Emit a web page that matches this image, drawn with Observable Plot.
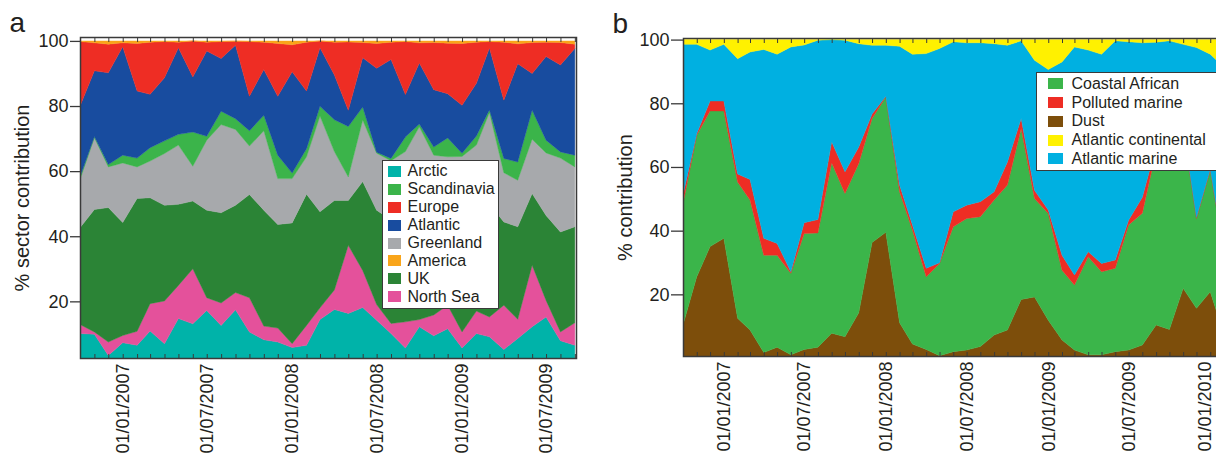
<!DOCTYPE html>
<html>
<head>
<meta charset="utf-8">
<script src="https://cdn.jsdelivr.net/npm/d3@7"></script>
<script src="https://cdn.jsdelivr.net/npm/@observablehq/plot@0.6"></script>
<style>
  html, body { margin: 0; padding: 0; background: #fff; overflow: hidden; }
  #fig { position: relative; width: 1216px; height: 458px; overflow: hidden;
         font-family: "Liberation Sans", Arial, Helvetica, sans-serif; color: #231f20; }
  #fig > svg { position: absolute; top: 0; }
  .legend { position: absolute; background: #fff; border: 1.5px solid #3a3a3a; box-sizing: border-box; }
  .legend .row { display: flex; align-items: center; white-space: nowrap; }
  .legend .sw { flex: none; }
</style>
</head>
<body>
<div id="fig"></div>
<script>
// ---------- Panel a: air-mass sector contributions (monthly, %) ----------
const sectorMonths = [
  "2006-10","2006-11","2006-12",
  "2007-01","2007-02","2007-03","2007-04","2007-05","2007-06","2007-07","2007-08","2007-09","2007-10","2007-11","2007-12",
  "2008-01","2008-02","2008-03","2008-04","2008-05","2008-06","2008-07","2008-08","2008-09","2008-10","2008-11","2008-12",
  "2009-01","2009-02","2009-03","2009-04","2009-05","2009-06","2009-07","2009-08","2009-09"
];
const arctic      = [10.1,9.9,3.4,7.3,6.5,10.9,7.0,14.7,13.1,17.2,12.6,17.4,10.6,8.2,7.5,5.8,6.5,14.4,17.5,16.3,18.1,14.2,10.1,5.7,12.2,9.4,11.6,5.7,10.1,9.1,5.2,8.6,12.2,15.2,7.9,6.5];
const northSea    = [2.8,0.7,4.1,2.2,4.3,8.4,13.1,10.2,16.9,3.9,6.9,5.3,10.5,4.2,4.3,1.2,6.1,3.6,6.0,20.9,11.4,4.8,3.1,8.0,2.2,6.4,7.2,4.9,6.9,6.1,13.6,5.9,18.9,5.1,2.7,6.9];
const uk          = [29.7,37.6,41.3,34.7,40.8,32.5,29.4,24.9,20.8,26.9,27.7,26.8,31.7,35.6,31.8,37.1,40.3,29.5,27.5,13.8,27.3,29.0,31.8,33.3,35.6,32.2,27.2,33.4,31.0,34.8,25.6,28.4,22.0,26.1,30.7,29.5];
const greenland   = [14.8,22.1,12.5,18.3,9.7,11.3,15.9,18.2,10.7,21.5,27.1,23.3,14.9,24.4,14.1,13.6,11.5,29.4,15.0,7.2,18.9,17.5,18.2,19.0,23.6,16.9,18.4,20.5,20.0,28.0,15.1,14.3,16.7,19.2,22.7,18.4];
const scandinavia = [0.8,0.3,0.7,2.4,2.7,4.1,3.9,3.3,10.5,1.2,4.1,3.3,4.7,4.8,7.2,1.7,2.5,3.0,9.8,15.5,4.0,0.3,0.7,4.5,0.9,2.5,5.8,1.0,2.8,0.8,4.4,5.6,8.9,3.9,1.9,3.6];
const atlantic    = [21.7,20.2,28.2,33.3,20.6,16.4,19.4,26.6,16.9,26.2,16.2,22.6,10.6,14.0,18.1,31.1,17.7,18.0,13.7,5.0,15.1,25.8,30.4,13.0,18.7,17.6,13.6,14.7,16.2,19.0,17.9,30.2,11.3,25.7,26.7,32.8];
const europe      = [19.9,8.6,8.8,1.2,14.6,16.0,11.1,1.7,11.1,2.7,5.2,1.2,16.8,8.4,16.2,8.3,15.0,2.1,10.1,21.0,4.7,7.6,5.3,16.3,6.2,14.5,15.5,19.0,12.6,2.0,17.8,6.1,9.5,4.4,6.9,1.3];
const america     = [0.2,0.6,1.0,0.6,0.8,0.4,0.2,0.4,0.0,0.4,0.2,0.1,0.2,0.4,0.8,1.2,0.4,0.0,0.4,0.3,0.5,0.8,0.4,0.2,0.6,0.5,0.7,0.8,0.4,0.2,0.4,0.9,0.5,0.4,0.5,1.0];

// stacking order, bottom to top
const sectorStack  = ["Arctic","North Sea","UK","Greenland","Scandinavia","Atlantic","Europe","America"];
const sectorColors = ["#00b3a9","#e4519b","#2b8436","#a7a9ac","#3bb44a","#184c9f","#ee2d24","#f9a51a"];
// legend order
const sectorLegend = ["Arctic","Scandinavia","Europe","Atlantic","Greenland","America","UK","North Sea"];
const sectorLabelDates = ["2007-01","2007-07","2008-01","2008-07","2009-01","2009-07"];

// ---------- Panel b: aerosol source-type contributions (monthly, %) ----------
const sourceMonths = [
  "2006-10","2006-11","2006-12",
  "2007-01","2007-02","2007-03","2007-04","2007-05","2007-06","2007-07","2007-08","2007-09","2007-10","2007-11","2007-12",
  "2008-01","2008-02","2008-03","2008-04","2008-05","2008-06","2008-07","2008-08","2008-09","2008-10","2008-11","2008-12",
  "2009-01","2009-02","2009-03","2009-04","2009-05","2009-06","2009-07","2009-08","2009-09","2009-10","2009-11","2009-12",
  "2010-01","2010-02"
];
const dust                = [10.4,25.5,35.0,37.6,12.5,8.8,1.7,3.4,1.0,2.7,3.4,7.8,6.7,14.2,36.3,39.5,11.1,4.4,2.7,0.7,2.0,2.5,3.6,7.2,8.8,18.4,19.2,11.9,5.7,2.5,1.0,1.0,2.0,2.5,4.1,10.4,9.0,21.9,15.6,20.8,7.4];
const coastalAfrican      = [38.1,44.5,42.6,40.0,42.8,40.8,30.6,28.9,25.6,36.4,35.9,53.5,45.0,46.9,38.9,42.5,41.1,35.8,22.8,29.0,39.2,41.3,40.8,42.4,45.5,53.7,30.9,33.5,21.9,20.4,30.8,26.1,26.2,39.3,41.4,54.6,59.0,50.1,28.2,38.2,25.6];
const pollutedMarine      = [2.7,0.5,3.1,3.1,2.5,6.5,5.3,3.7,0.5,3.4,4.2,6.6,6.8,5.2,1.4,0.2,2.1,1.6,2.7,0.2,4.7,4.2,4.7,2.6,7.3,3.1,2.6,1.1,4.7,3.2,1.6,2.6,2.6,1.5,5.0,1.5,0.8,0.5,0.4,0.4,0.4];
const atlanticMarine      = [47.3,28.0,16.0,17.8,36.2,40.0,59.3,59.4,70.6,55.8,56.3,32.1,41.3,32.4,21.6,16.0,43.6,53.6,67.4,67.3,53.4,51.0,49.9,46.5,36.6,24.4,40.8,44.1,60.7,71.6,63.3,65.7,68.8,56.0,48.5,32.7,30.8,26.0,53.3,36.0,57.9];
const atlanticContinental = [1.5,1.5,3.3,1.5,6.0,3.9,3.1,4.6,2.3,1.7,0.2,0.0,0.2,1.3,1.8,1.8,2.1,4.6,4.4,2.8,0.7,1.0,1.0,1.3,1.8,0.4,6.5,9.4,7.0,2.3,3.3,4.6,0.4,0.7,1.0,0.8,0.4,1.5,2.5,4.6,8.7];

const sourceStack  = ["Dust","Coastal African","Polluted marine","Atlantic marine","Atlantic continental"];
const sourceColors = ["#7d4e0b","#3bb54a","#ee2d24","#00b0e1","#fff100"];
const sourceLegend = ["Coastal African","Polluted marine","Dust","Atlantic continental","Atlantic marine"];
const sourceLabelDates = ["2007-01","2007-07","2008-01","2008-07","2009-01","2009-07","2010-01"];

// ---------- helpers ----------
const parseMonth = s => new Date(s + "-01T00:00:00Z");
const fmtDate = d3.utcFormat("%d/%m/%Y");
const textColor = "#231f20";
const frameColor = "#3a3a3a";
const fontFamily = '"Liberation Sans", Arial, Helvetica, sans-serif';

function longRows(months, series) {
  return series.flatMap(([name, values]) =>
    values.map((v, i) => ({date: parseMonth(months[i]), series: name, value: v})));
}

const rowsA = longRows(sectorMonths, [
  ["Arctic", arctic], ["North Sea", northSea], ["UK", uk], ["Greenland", greenland],
  ["Scandinavia", scandinavia], ["Atlantic", atlantic], ["Europe", europe], ["America", america]
]);
const rowsB = longRows(sourceMonths, [
  ["Dust", dust], ["Coastal African", coastalAfrican], ["Polluted marine", pollutedMarine],
  ["Atlantic marine", atlanticMarine], ["Atlantic continental", atlanticContinental]
]);

function dateLabels(dates, dx) {
  return Plot.axisX(dates.map(parseMonth), {anchor: "bottom", tickSize: 0, tickRotate: -90, tickPadding: 5,
                    tickFormat: fmtDate, fontSize: 18, label: null, dx});
}

function stackedPanel({rows, stack, colors, xDomain, yDomain, labelDates, edgeLabelDates = [], width,
                       marginLeft, marginRight, marginTop, marginBottom, tickSize, panelLetter, yLabel}) {
  const monthTicks = d3.utcMonth.range(xDomain[0], new Date(+xDomain[1] + 1));
  return Plot.plot({
    width, height: 458, marginLeft, marginRight, marginTop, marginBottom,
    style: {fontFamily, fontSize: "18px", color: textColor, background: "transparent", overflow: "visible"},
    x: {type: "utc", domain: xDomain},
    y: {domain: yDomain},
    color: {domain: stack, range: colors},
    marks: [
      Plot.areaY(rows, {x: "date", y: "value", z: "series", fill: "series", stroke: "series",
                        strokeWidth: 0.4, order: stack, clip: true}),
      Plot.frame({stroke: frameColor, strokeWidth: 1.5}),
      Plot.axisY([20, 40, 60, 80, 100], {tickSize, tickPadding: 2, fontSize: 18, label: null, stroke: frameColor, strokeWidth: 1.3}),
      Plot.axisX(monthTicks, {anchor: "bottom", tickSize: -4, tickFormat: () => "", label: null, stroke: frameColor}),
      Plot.axisX(monthTicks, {anchor: "top", tickSize: -4, tickFormat: () => "", label: null, stroke: frameColor}),
      dateLabels(labelDates, 0),
      // a label sitting at the right edge of the window is nudged inwards
      ...(edgeLabelDates.length ? [dateLabels(edgeLabelDates, -6)] : []),
      Plot.text([yLabel], {text: d => d, frameAnchor: "left", rotate: -90, dx: -58,
                           textAnchor: "middle", lineAnchor: "middle", fontSize: 20, fill: textColor}),
      Plot.text([panelLetter], {text: d => d, frameAnchor: "top-left", dx: -71, dy: -25,
                                textAnchor: "start", lineAnchor: "top", fontSize: 28, fill: textColor})
    ]
  });
}

const fig = document.getElementById("fig");

const panelA = stackedPanel({
  rows: rowsA, stack: sectorStack, colors: sectorColors,
  xDomain: [parseMonth("2006-10"), new Date(Date.UTC(2009, 8, 3, 12))],
  yDomain: [2.6, 101.2], labelDates: sectorLabelDates,
  width: 600, marginLeft: 80, marginRight: 24, marginTop: 37, marginBottom: 100,
  tickSize: 10, panelLetter: "a", yLabel: "% sector contribution"
});
panelA.style.left = "0px";
fig.appendChild(panelA);

const panelB = stackedPanel({
  rows: rowsB, stack: sourceStack, colors: sourceColors,
  xDomain: [parseMonth("2006-10"), parseMonth("2010-02")],
  yDomain: [0.64, 100.5],
  labelDates: sourceLabelDates.slice(0, -1), edgeLabelDates: sourceLabelDates.slice(-1),
  width: 624, marginLeft: 83, marginRight: 0, marginTop: 38, marginBottom: 102,
  tickSize: 12, panelLetter: "b", yLabel: "% contribution"
});
panelB.style.left = "600px";
fig.appendChild(panelB);

// ---------- legends ----------
function addLegend({names, stack, colors, left, top, width, height, rowHeight, padTop,
                    swLeft, swW, swH, gap, fontSize}) {
  const box = document.createElement("div");
  box.className = "legend";
  Object.assign(box.style, {left: left + "px", top: top + "px", width: width + "px", height: height + "px",
                            paddingTop: padTop + "px"});
  for (const name of names) {
    const row = document.createElement("div");
    row.className = "row";
    row.style.height = rowHeight + "px";
    row.style.paddingLeft = swLeft + "px";
    const sw = document.createElement("span");
    sw.className = "sw";
    Object.assign(sw.style, {width: swW + "px", height: swH + "px", background: colors[stack.indexOf(name)],
                             marginRight: gap + "px", display: "inline-block"});
    const label = document.createElement("span");
    label.textContent = name;
    label.style.fontSize = fontSize + "px";
    row.append(sw, label);
    box.appendChild(row);
  }
  fig.appendChild(box);
}

addLegend({names: sectorLegend, stack: sectorStack, colors: sectorColors,
           left: 382, top: 160, width: 117, height: 149, rowHeight: 17.9, padTop: 1.5,
           swLeft: 4.5, swW: 13, swH: 11, gap: 7, fontSize: 16});
addLegend({names: sourceLegend, stack: sourceStack, colors: sourceColors,
           left: 1036, top: 72, width: 210, height: 99, rowHeight: 18.75, padTop: 1.5,
           swLeft: 10.5, swW: 15, swH: 11, gap: 9, fontSize: 16});
</script>
</body>
</html>
